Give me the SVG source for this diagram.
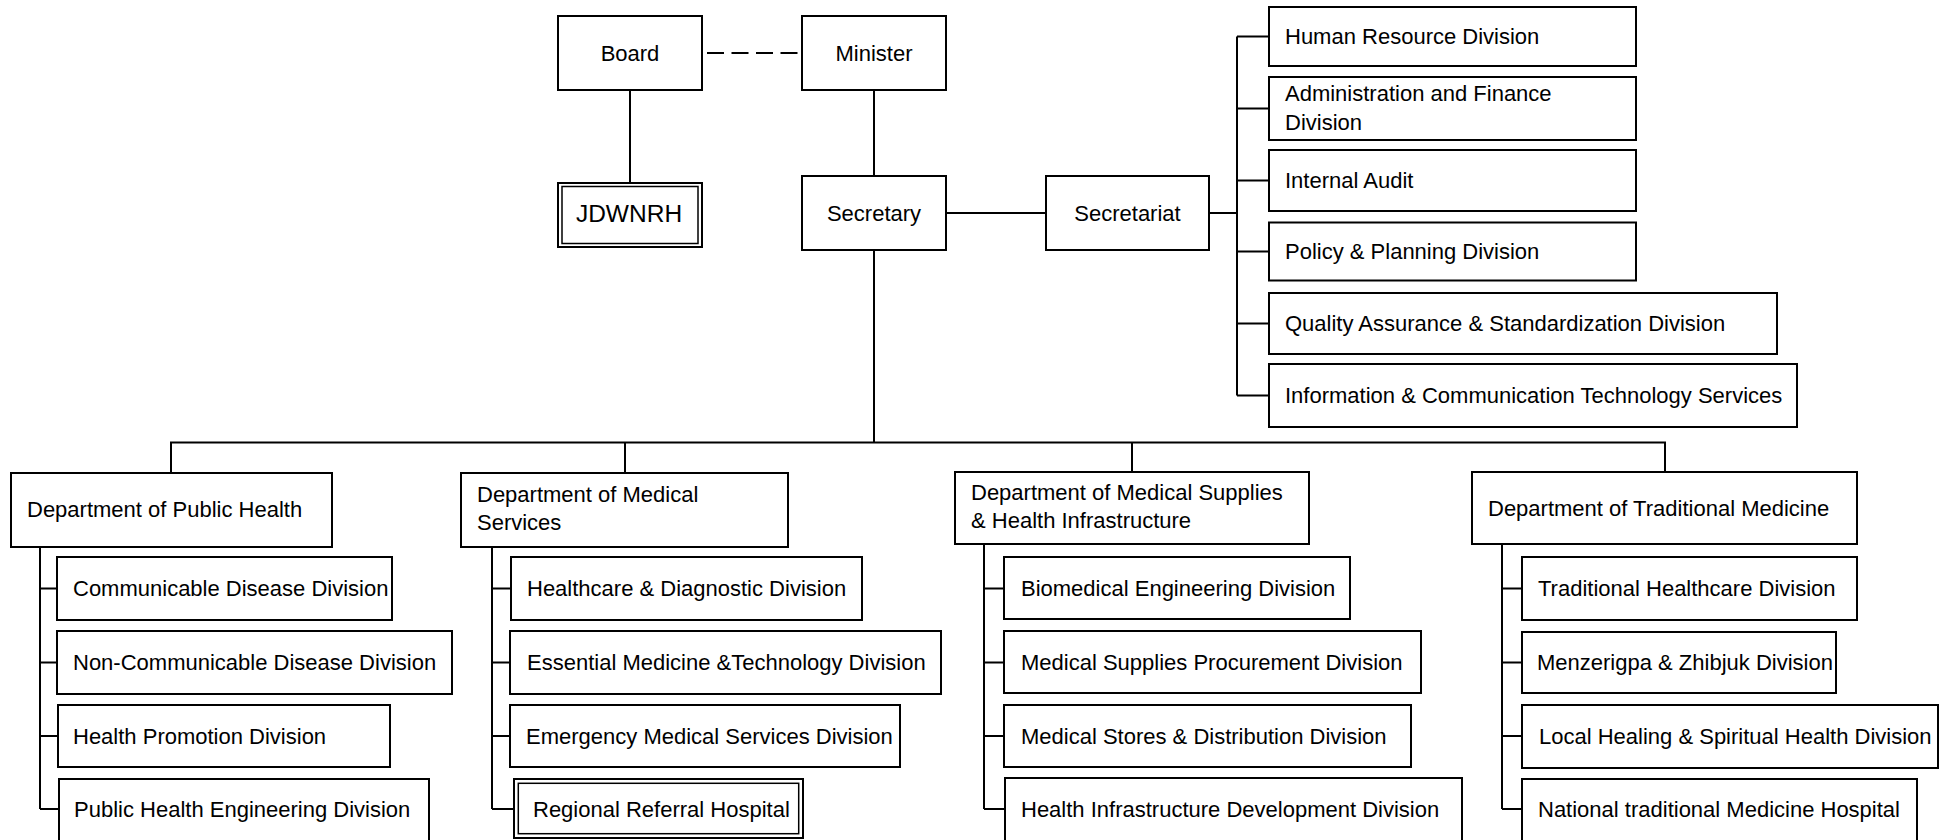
<svg xmlns="http://www.w3.org/2000/svg" width="1951" height="840" viewBox="0 0 1951 840">
<style>
.box{fill:#fff;stroke:#000;stroke-width:2}
.inner{fill:none;stroke:#000;stroke-width:1.5}
.t{font-family:"Liberation Sans",Arial,sans-serif;font-size:22px;fill:#000}
.c{text-anchor:middle}
.ln{fill:none;stroke:#000;stroke-width:2}
.dash{stroke-dasharray:17 7.5}
</style>
<rect x="0" y="0" width="1951" height="840" fill="#fff"/>
<g id="connectors">
<path class="ln dash" d="M707 53 H802"/>
<path class="ln" d="M630 90 V183"/>
<path class="ln" d="M874 90 V176"/>
<path class="ln" d="M945 213 H1046"/>
<path class="ln" d="M1209 213 H1237"/>
<path class="ln" d="M1237 36.5 V395.5"/>
<path class="ln" d="M1237 36.5 H1269 M1237 108.5 H1269 M1237 180.5 H1269 M1237 251.5 H1269 M1237 323.5 H1269 M1237 395.5 H1269"/>
<path class="ln" d="M874 250 V442.5"/>
<path class="ln" d="M171 473 V442.5 H1665 V472"/>
<path class="ln" d="M625 442.5 V473 M1132 442.5 V472"/>
<path class="ln" d="M40 547 V809 M40 588.5 H57 M40 662.5 H57 M40 736 H58 M40 809 H59"/>
<path class="ln" d="M492 547 V809 M492 588.5 H511 M492 662.5 H510 M492 736 H510 M492 809 H514"/>
<path class="ln" d="M984 544 V809 M984 588.5 H1004 M984 662.5 H1004 M984 736 H1004 M984 809 H1005"/>
<path class="ln" d="M1502 544 V809 M1502 588.5 H1522 M1502 662.5 H1522 M1502 736 H1522 M1502 809 H1522"/>
</g>
<g id="board"><rect class="box" x="558" y="16" width="144" height="74"/><text class="t c" x="630" y="61">Board</text></g>
<g id="minister"><rect class="box" x="802" y="16" width="144" height="74"/><text class="t c" x="874" y="61">Minister</text></g>
<g id="jdwnrh"><rect class="box" x="558" y="183" width="144" height="64"/><rect class="inner" x="562" y="186.5" width="136" height="57"/><text class="t c" x="629" y="222" style="font-size:24.5px">JDWNRH</text></g>
<g id="secretary"><rect class="box" x="802" y="176" width="144" height="74"/><text class="t c" x="874" y="221">Secretary</text></g>
<g id="secretariat"><rect class="box" x="1046" y="176" width="163" height="74"/><text class="t c" x="1127.5" y="221">Secretariat</text></g>
<g id="hr"><rect class="box" x="1269" y="7" width="367" height="59"/><text class="t" x="1285" y="44">Human Resource Division</text></g>
<g id="admin"><rect class="box" x="1269" y="77" width="367" height="63"/><text class="t" x="1285" y="101">Administration and Finance</text><text class="t" x="1285" y="130">Division</text></g>
<g id="audit"><rect class="box" x="1269" y="150" width="367" height="61"/><text class="t" x="1285" y="187.5">Internal Audit</text></g>
<g id="policy"><rect class="box" x="1269" y="222.5" width="367" height="58"/><text class="t" x="1285" y="258.5">Policy &amp; Planning Division</text></g>
<g id="qa"><rect class="box" x="1269" y="293" width="508" height="61"/><text class="t" x="1285" y="331">Quality Assurance &amp; Standardization Division</text></g>
<g id="ict"><rect class="box" x="1269" y="364" width="528" height="63"/><text class="t" x="1285" y="402.5">Information &amp; Communication Technology Services</text></g>
<g id="dept-public-health"><rect class="box" x="11" y="473" width="321" height="74"/><text class="t" x="27" y="517">Department of Public Health</text></g>
<g id="communicable"><rect class="box" x="57" y="557" width="335" height="63"/><text class="t" x="73" y="596">Communicable Disease Division</text></g>
<g id="non-communicable"><rect class="box" x="57" y="631" width="395" height="63"/><text class="t" x="73" y="670">Non-Communicable Disease Division</text></g>
<g id="health-promotion"><rect class="box" x="58" y="705" width="332" height="62"/><text class="t" x="73" y="743.5">Health Promotion Division</text></g>
<g id="phe"><rect class="box" x="59" y="779" width="370" height="70"/><text class="t" x="74" y="817">Public Health Engineering Division</text></g>
<g id="dept-medical-services"><rect class="box" x="461" y="473" width="327" height="74"/><text class="t" x="477" y="502">Department of Medical</text><text class="t" x="477" y="530">Services</text></g>
<g id="healthcare"><rect class="box" x="511" y="557" width="351" height="63"/><text class="t" x="527" y="596">Healthcare &amp; Diagnostic Division</text></g>
<g id="essential"><rect class="box" x="510" y="631" width="431" height="63"/><text class="t" x="527" y="670">Essential Medicine &amp;Technology Division</text></g>
<g id="emergency"><rect class="box" x="510" y="705" width="390" height="62"/><text class="t" x="526" y="743.5">Emergency Medical Services Division</text></g>
<g id="rrh"><rect class="box" x="514" y="779" width="289" height="59"/><rect class="inner" x="518.3" y="783.3" width="280.4" height="50.4"/><text class="t" x="533" y="817">Regional Referral Hospital</text></g>
<g id="dept-medical-supplies"><rect class="box" x="955" y="472" width="354" height="72"/><text class="t" x="971" y="500">Department of Medical Supplies</text><text class="t" x="971" y="528">&amp; Health Infrastructure</text></g>
<g id="biomedical"><rect class="box" x="1004" y="557" width="346" height="62"/><text class="t" x="1021" y="596">Biomedical Engineering Division</text></g>
<g id="procurement"><rect class="box" x="1004" y="631" width="417" height="62"/><text class="t" x="1021" y="670">Medical Supplies Procurement Division</text></g>
<g id="stores"><rect class="box" x="1004" y="705" width="407" height="62"/><text class="t" x="1021" y="743.5">Medical Stores &amp; Distribution Division</text></g>
<g id="infrastructure"><rect class="box" x="1005" y="778" width="457" height="71"/><text class="t" x="1021" y="817">Health Infrastructure Development Division</text></g>
<g id="dept-traditional"><rect class="box" x="1472" y="472" width="385" height="72"/><text class="t" x="1488" y="516">Department of Traditional Medicine</text></g>
<g id="traditional-healthcare"><rect class="box" x="1522" y="557" width="335" height="63"/><text class="t" x="1538" y="596">Traditional Healthcare Division</text></g>
<g id="menzerigpa"><rect class="box" x="1522" y="632" width="314" height="61"/><text class="t" x="1537" y="670">Menzerigpa &amp; Zhibjuk Division</text></g>
<g id="local-healing"><rect class="box" x="1522" y="705" width="416" height="63"/><text class="t" x="1539" y="743.5">Local Healing &amp; Spiritual Health Division</text></g>
<g id="ntmh"><rect class="box" x="1522" y="779" width="395" height="70"/><text class="t" x="1538" y="817">National traditional Medicine Hospital</text></g>
</svg>
